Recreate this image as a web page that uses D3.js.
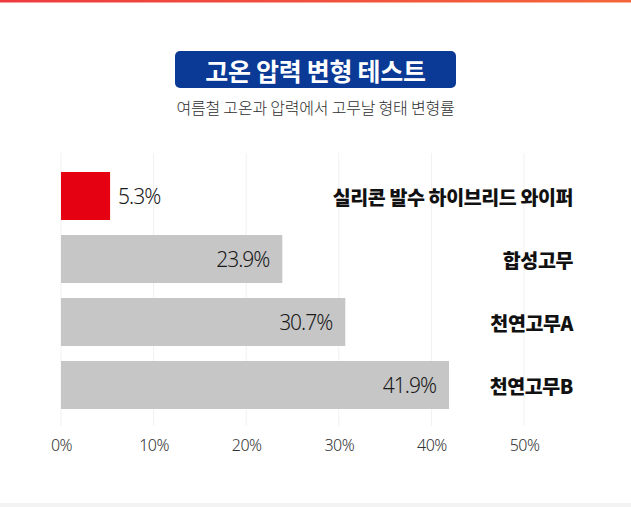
<!DOCTYPE html>
<html>
<head>
<meta charset="utf-8">
<script src="https://cdn.jsdelivr.net/npm/d3@7"></script>
<style>
  html, body { margin: 0; padding: 0; background: #fff; }
  svg { display: block; }
</style>
</head>
<body>
<script>
var W = 631, H = 507;

var title = '고온 압력 변형 테스트';
var subtitle = '여름철 고온과 압력에서 고무날 형태 변형률';
var categories = ['실리콘 발수 하이브리드 와이퍼', '합성고무', '천연고무A', '천연고무B'];
var values = [5.3, 23.9, 30.7, 41.9];
var barColors = ['#e50012', '#c6c6c6', '#c6c6c6', '#c6c6c6'];
var ticks = [0, 10, 20, 30, 40, 50];

var krFont = '"Noto Sans CJK KR", "Noto Sans", sans-serif';
var numFont = '"Noto Sans", "Noto Sans CJK KR", sans-serif';

var svg = d3.select('body').append('svg')
  .attr('width', W)
  .attr('height', H);

// top accent line and bottom strip
var grad = svg.append('defs').append('linearGradient').attr('id', 'topline');
grad.append('stop').attr('offset', '0%').attr('stop-color', '#ee3b3f');
grad.append('stop').attr('offset', '100%').attr('stop-color', '#f4663a');
svg.append('rect').attr('x', 0).attr('y', 0).attr('width', W).attr('height', 2.5).attr('fill', 'url(#topline)');
svg.append('rect').attr('x', 0).attr('y', 503).attr('width', W).attr('height', 4).attr('fill', '#f3f3f3');

// title box
svg.append('rect')
  .attr('x', 175).attr('y', 51)
  .attr('width', 281).attr('height', 37)
  .attr('rx', 5).attr('ry', 5)
  .attr('fill', '#0a3a96');
svg.append('text')
  .attr('x', 315.5).attr('y', 70)
  .attr('text-anchor', 'middle')
  .attr('dominant-baseline', 'central')
  .attr('fill', '#fff')
  .attr('font-family', krFont)
  .attr('font-weight', 700)
  .attr('font-size', 25)
  .attr('letter-spacing', -0.3)
  .text(title);
svg.append('text')
  .attr('x', 315.5).attr('y', 107)
  .attr('text-anchor', 'middle')
  .attr('dominant-baseline', 'central')
  .attr('fill', '#2e2e2e')
  .attr('font-family', krFont)
  .attr('font-weight', 300)
  .attr('font-size', 16)
  .attr('letter-spacing', -0.2)
  .text(subtitle);

// scales
var x = d3.scaleLinear().domain([0, 50]).range([61, 524]);
var y = d3.scaleBand().domain(categories).range([164.5, 416.5]).paddingInner(0.238).paddingOuter(0.119);

// gridlines
svg.append('g').selectAll('line')
  .data(ticks)
  .enter().append('line')
  .attr('x1', function(d) { return x(d); })
  .attr('x2', function(d) { return x(d); })
  .attr('y1', 153)
  .attr('y2', 426)
  .attr('stroke', '#f1f1f1')
  .attr('stroke-width', 1);

// bars
svg.append('g').selectAll('rect')
  .data(values)
  .enter().append('rect')
  .attr('x', x(0))
  .attr('y', function(d, i) { return y(categories[i]); })
  .attr('width', function(d) { return x(d) - x(0); })
  .attr('height', y.bandwidth())
  .attr('fill', function(d, i) { return barColors[i]; });

// value labels
svg.append('g').selectAll('text')
  .data(values)
  .enter().append('text')
  .attr('x', function(d) { return d < 10 ? x(d) + 8 : x(d) - 13; })
  .attr('y', function(d, i) { return y(categories[i]) + y.bandwidth() / 2; })
  .attr('text-anchor', function(d) { return d < 10 ? 'start' : 'end'; })
  .attr('dominant-baseline', 'central')
  .attr('fill', '#1a1a1a')
  .attr('font-family', numFont)
  .attr('font-weight', 300)
  .attr('font-size', 21)
  .attr('letter-spacing', -1)
  .text(function(d) { return d.toFixed(1) + '%'; });

// category labels
svg.append('g').selectAll('text')
  .data(categories)
  .enter().append('text')
  .attr('x', 573)
  .attr('y', function(d) { return y(d) + y.bandwidth() / 2; })
  .attr('text-anchor', 'end')
  .attr('dominant-baseline', 'central')
  .attr('fill', '#111')
  .attr('font-family', krFont)
  .attr('font-weight', 900)
  .attr('font-size', 19.5)
  .attr('letter-spacing', -0.4)
  .text(function(d) { return d; });

// x axis
var axis = svg.append('g')
  .attr('transform', 'translate(0,' + 433 + ')')
  .call(d3.axisBottom(x).tickValues(ticks).tickSize(0).tickFormat(function(d) { return d + '%'; }));
axis.select('.domain').remove();
axis.selectAll('text')
  .attr('dy', 0)
  .attr('y', 12)
  .attr('dominant-baseline', 'central')
  .attr('fill', '#333')
  .attr('font-family', numFont)
  .attr('font-weight', 300)
  .attr('font-size', 16)
  .attr('letter-spacing', -0.5);
</script>
</body>
</html>
